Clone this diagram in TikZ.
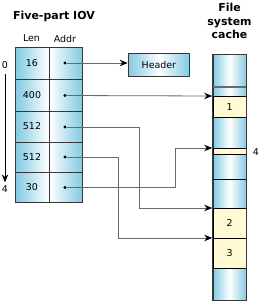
\documentclass[tikz,border=0pt]{standalone}
\usepackage{fontspec}
\setmainfont{DejaVu Sans}
\usetikzlibrary{arrows.meta}
\definecolor{cblue}{RGB}{130,202,226}
\definecolor{cyel}{RGB}{255,250,212}
\definecolor{cline}{RGB}{105,105,105}
\definecolor{cdark}{RGB}{55,55,55}
\begin{document}
\begin{tikzpicture}[x=1bp,y=-1bp,
  font=\fontsize{9.5}{11}\selectfont,
  shadebox/.style={draw=cdark, line width=0.8bp, left color=cblue, right color=cblue, middle color=white, inner sep=0pt, anchor=north west},
  seg/.style={draw=black, line width=0.6bp, fill=cyel, inner sep=0pt, anchor=north west, minimum width=33.5bp},
  cellline/.style={draw=cdark, line width=0.8bp},
  dot/.style={circle, fill=black, inner sep=0pt, minimum size=3.2bp},
  conn/.style={draw=cline, line width=0.8bp, -{Stealth[length=8bp,width=6.5bp,color=black]}, shorten >=0.3bp},
  title/.style={font=\fontsize{11}{13.5}\selectfont\bfseries, align=center},
  lbl/.style={inner sep=0pt}
]
\useasboundingbox (0,0) rectangle (260,302);

% titles
\node[title] (ttl) at (54,16) {Five-part IOV};
\node[title] (ctl) at (229.5,21) {File\\system\\cache};
\node[lbl] (hlen) at (31.5,38.5) {Len};
\node[lbl] (haddr) at (65,38.5) {Addr};

% table
\node[shadebox, minimum width=67bp, minimum height=155bp] (tbl) at (15,47) {};
\draw[cellline] (49,47) -- (49,202);
\foreach \yy in {79,111,142,172} \draw[cellline] (15,\yy) -- (82,\yy);
\node[lbl] (l1) at (32,63) {16};
\node[lbl] (l2) at (32,95) {400};
\node[lbl] (l3) at (32,126.5) {512};
\node[lbl] (l4) at (32,157) {512};
\node[lbl] (l5) at (32,187) {30};
\node[dot] (d1) at (65,63) {};
\node[dot] (d2) at (65,95.5) {};
\node[dot] (d3) at (65,127) {};
\node[dot] (d4) at (65,157) {};
\node[dot] (d5) at (65,187.5) {};

% index arrow
\node[lbl] (n0) at (5,65) {0};
\node[lbl] (n4) at (5,189) {4};
\draw[black, line width=0.8bp, -{Stealth[length=8bp,width=6.5bp]}] ([yshift=-5bp]n0.south) -- ([yshift=3bp]n4.north);

% header
\node[shadebox, minimum width=61bp, minimum height=23bp] (hdr) at (128,53) {};
\node[lbl] (htx) at (hdr.center) {Header};

% cache
\node[shadebox, minimum width=33.5bp, minimum height=246bp] (cache) at (212.5,54) {};
\draw[draw=cline, line width=1.6bp] (212.5,87) -- (246,87);
\draw[draw=black, line width=0.6bp] (212.5,179) -- (246,179);
\node[seg, minimum height=21bp] (s1) at (212.5,96) {};
\node[seg, minimum height=6bp] (s4) at (212.5,148) {};
\node[seg, minimum height=30bp] (s2) at (212.5,208) {};
\node[seg, minimum height=30bp] (s3) at (212.5,238) {};
\node[lbl] (t1) at (s1.center) {1};
\node[lbl] (t2) at (s2.center) {2};
\node[lbl] (t3) at (s3.center) {3};
\node[lbl] (t4) at (256,152) {4};
\draw[draw=cdark, line width=0.8bp] (cache.north west) rectangle (cache.south east);

% connectors
\coordinate (k3) at (139,208);
\coordinate (k4) at (118,238);
\coordinate (k5) at (175,148);
\draw[conn] (d1) -- (d1 -| hdr.west);
\draw[conn] (d2) -- (s1.north west);
\draw[conn] (d3) -| (k3) -- (s2.north west);
\draw[conn] (d4) -| (k4) -- (s3.north west);
\draw[conn] (d5) -| (k5) -- (s4.north west);
\end{tikzpicture}
\end{document}
